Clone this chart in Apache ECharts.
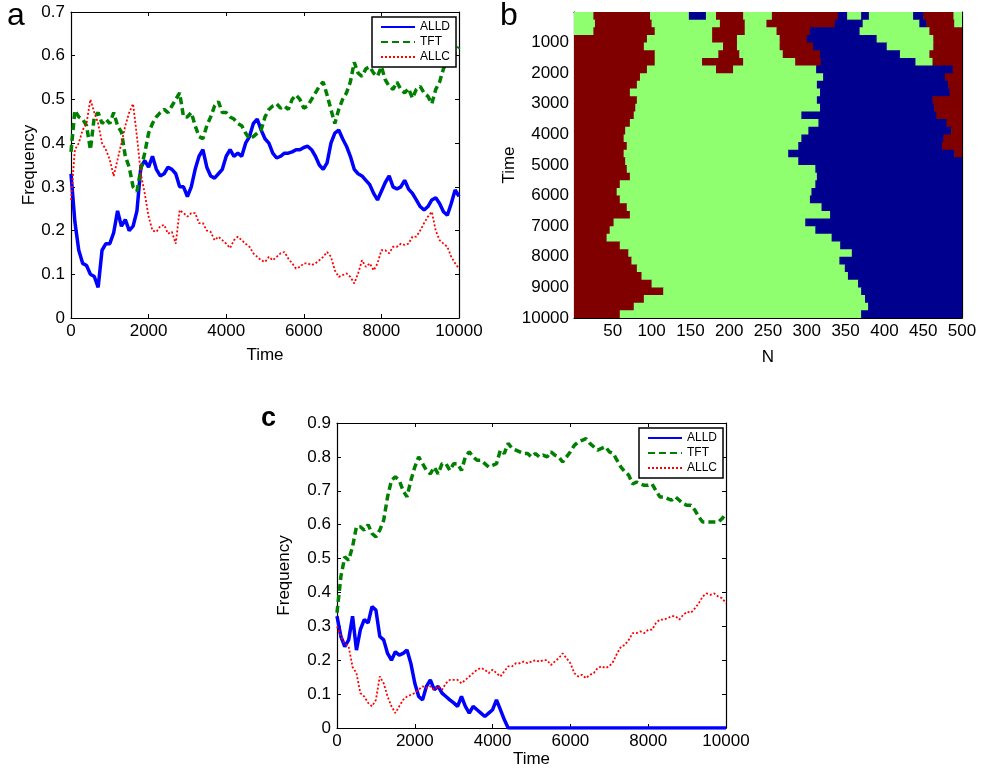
<!DOCTYPE html>
<html>
<head>
<meta charset="utf-8">
<title>ALLD / TFT / ALLC</title>
<script src="https://cdn.jsdelivr.net/npm/echarts@6/dist/echarts.min.js"></script>
<style>
    html, body { margin: 0; padding: 0; background: #fff; }
    #main { width: 981px; height: 771px; }
</style>
</head>
<body>
<div id="main"></div>
<script>
// sample times of the line panels (every 100 steps)
const timeSteps = Array.from({ length: 101 }, (_, i) => i * 100)
const seriesNames = ['ALLD', 'TFT', 'ALLC']

// panel a
const aALLD = [0.33, 0.22, 0.155, 0.125, 0.12, 0.10, 0.095, 0.07, 0.155, 0.17,
    0.17, 0.195, 0.245, 0.21, 0.225, 0.20, 0.21, 0.245, 0.345, 0.36,
    0.345, 0.37, 0.34, 0.325, 0.33, 0.345, 0.34, 0.33, 0.30, 0.30,
    0.278, 0.30, 0.34, 0.37, 0.385, 0.345, 0.325, 0.32, 0.33, 0.34,
    0.37, 0.385, 0.37, 0.377, 0.37, 0.40, 0.415, 0.445, 0.455, 0.43,
    0.41, 0.40, 0.377, 0.366, 0.37, 0.377, 0.377, 0.38, 0.385, 0.385,
    0.39, 0.393, 0.385, 0.37, 0.35, 0.34, 0.355, 0.40, 0.423, 0.43,
    0.41, 0.393, 0.37, 0.34, 0.33, 0.325, 0.315, 0.305, 0.285, 0.27,
    0.29, 0.31, 0.325, 0.30, 0.295, 0.30, 0.315, 0.295, 0.285, 0.27,
    0.255, 0.247, 0.255, 0.27, 0.275, 0.262, 0.243, 0.235, 0.262, 0.293,
    0.278]
const aTFT = [0.38, 0.475, 0.46, 0.455, 0.44, 0.385, 0.46, 0.47, 0.445, 0.455,
    0.445, 0.47, 0.44, 0.425, 0.37, 0.345, 0.30, 0.29, 0.34, 0.377,
    0.423, 0.445, 0.46, 0.47, 0.477, 0.47, 0.485, 0.50, 0.515, 0.46,
    0.46, 0.47, 0.44, 0.415, 0.41, 0.44, 0.46, 0.485, 0.495, 0.47,
    0.47, 0.46, 0.455, 0.445, 0.44, 0.423, 0.41, 0.415, 0.423, 0.43,
    0.46, 0.477, 0.485, 0.49, 0.48, 0.485, 0.477, 0.50, 0.51, 0.50,
    0.48, 0.485, 0.50, 0.515, 0.53, 0.54, 0.51, 0.477, 0.445, 0.477,
    0.50, 0.515, 0.54, 0.585, 0.56, 0.553, 0.57, 0.575, 0.56, 0.553,
    0.575, 0.545, 0.53, 0.523, 0.54, 0.523, 0.515, 0.525, 0.503, 0.523,
    0.53, 0.515, 0.507, 0.49, 0.523, 0.54, 0.57, 0.59, 0.585, 0.607,
    0.62]
const aALLC = [0.27, 0.385, 0.40, 0.43, 0.445, 0.50, 0.47, 0.445, 0.40, 0.385,
    0.362, 0.325, 0.362, 0.40, 0.44, 0.47, 0.49, 0.415, 0.33, 0.285,
    0.232, 0.20, 0.197, 0.21, 0.213, 0.193, 0.197, 0.17, 0.247, 0.24,
    0.232, 0.24, 0.24, 0.217, 0.217, 0.20, 0.197, 0.178, 0.186, 0.178,
    0.17, 0.16, 0.178, 0.186, 0.178, 0.17, 0.163, 0.148, 0.14, 0.132,
    0.128, 0.14, 0.132, 0.14, 0.148, 0.151, 0.136, 0.125, 0.113, 0.117,
    0.125, 0.125, 0.121, 0.125, 0.132, 0.14, 0.151, 0.14, 0.109, 0.094,
    0.098, 0.102, 0.094, 0.079, 0.102, 0.132, 0.117, 0.125, 0.109, 0.125,
    0.155, 0.155, 0.148, 0.163, 0.163, 0.17, 0.167, 0.17, 0.186, 0.186,
    0.20, 0.217, 0.232, 0.243, 0.20, 0.178, 0.17, 0.163, 0.14, 0.125,
    0.113]

// panel c
const cALLD = [0.33, 0.27, 0.24, 0.26, 0.33, 0.23, 0.29, 0.32, 0.31, 0.358,
    0.348, 0.27, 0.26, 0.22, 0.20, 0.225, 0.215, 0.22, 0.23, 0.19,
    0.132, 0.093, 0.083, 0.123, 0.142, 0.113, 0.123, 0.103, 0.093, 0.083,
    0.074, 0.064, 0.093, 0.064, 0.044, 0.064, 0.054, 0.044, 0.034, 0.044,
    0.054, 0.083, 0.054, 0.025, 0, 0, 0, 0, 0, 0,
    0, 0, 0, 0, 0, 0, 0, 0, 0, 0,
    0, 0, 0, 0, 0, 0, 0, 0, 0, 0,
    0, 0, 0, 0, 0, 0, 0, 0, 0, 0,
    0, 0, 0, 0, 0, 0, 0, 0, 0, 0,
    0, 0, 0, 0, 0, 0, 0, 0, 0, 0,
    0]
const cTFT = [0.34, 0.447, 0.505, 0.495, 0.535, 0.594, 0.594, 0.584, 0.60, 0.574,
    0.564, 0.584, 0.613, 0.682, 0.731, 0.741, 0.731, 0.70, 0.682, 0.731,
    0.77, 0.80, 0.78, 0.76, 0.75, 0.77, 0.75, 0.78, 0.78, 0.76,
    0.78, 0.78, 0.76, 0.80, 0.815, 0.80, 0.79, 0.79, 0.78, 0.77,
    0.775, 0.78, 0.82, 0.81, 0.84, 0.825, 0.82, 0.815, 0.81, 0.81,
    0.80, 0.81, 0.80, 0.805, 0.80, 0.815, 0.805, 0.80, 0.785, 0.80,
    0.815, 0.834, 0.844, 0.849, 0.854, 0.84, 0.83, 0.82, 0.825, 0.83,
    0.815, 0.81, 0.79, 0.77, 0.756, 0.746, 0.72, 0.726, 0.72, 0.716,
    0.716, 0.72, 0.70, 0.682, 0.682, 0.677, 0.672, 0.682, 0.672, 0.662,
    0.657, 0.657, 0.643, 0.623, 0.608, 0.608, 0.608, 0.608, 0.608, 0.618,
    0.633]
const cALLC = [0.30, 0.27, 0.25, 0.24, 0.18, 0.162, 0.103, 0.093, 0.074, 0.064,
    0.083, 0.152, 0.132, 0.093, 0.064, 0.044, 0.064, 0.083, 0.093, 0.098,
    0.103, 0.113, 0.123, 0.118, 0.123, 0.113, 0.123, 0.113, 0.132, 0.142,
    0.142, 0.142, 0.132, 0.142, 0.152, 0.162, 0.172, 0.177, 0.172, 0.162,
    0.172, 0.162, 0.152, 0.167, 0.182, 0.182, 0.191, 0.191, 0.196, 0.191,
    0.196, 0.20, 0.196, 0.20, 0.20, 0.186, 0.196, 0.206, 0.22, 0.206,
    0.191, 0.162, 0.152, 0.157, 0.147, 0.157, 0.162, 0.177, 0.182, 0.177,
    0.182, 0.196, 0.22, 0.24, 0.245, 0.26, 0.28, 0.28, 0.285, 0.28,
    0.29, 0.29, 0.31, 0.32, 0.32, 0.324, 0.33, 0.33, 0.32, 0.334,
    0.343, 0.34, 0.353, 0.368, 0.388, 0.397, 0.393, 0.397, 0.388, 0.383,
    0.368]

// panel b: strategy of every player N over time, one row per 250 steps,
// each row = runs of [end N, strategy]
const rowSpan = 250
const fieldRows = [
    [[25, 'G'], [98, 'R'], [148, 'G'], [170, 'B'], [183, 'G'], [218, 'R'], [255, 'G'], [340, 'R'], [352, 'B'], [370, 'G'], [380, 'B'], [437, 'G'], [450, 'B'], [489, 'R'], [500, 'G']],
    [[27, 'G'], [100, 'R'], [188, 'G'], [220, 'R'], [248, 'G'], [336, 'R'], [372, 'B'], [445, 'G'], [454, 'B'], [490, 'R'], [500, 'G']],
    [[25, 'G'], [104, 'R'], [178, 'G'], [220, 'R'], [261, 'G'], [304, 'R'], [368, 'B'], [458, 'G'], [500, 'R']],
    [[94, 'R'], [178, 'G'], [210, 'R'], [265, 'G'], [300, 'R'], [390, 'B'], [463, 'G'], [500, 'R']],
    [[90, 'R'], [192, 'G'], [210, 'R'], [265, 'G'], [308, 'R'], [403, 'B'], [463, 'G'], [500, 'R']],
    [[104, 'R'], [186, 'G'], [213, 'R'], [269, 'G'], [317, 'R'], [420, 'B'], [458, 'G'], [500, 'R']],
    [[104, 'R'], [165, 'G'], [218, 'R'], [285, 'G'], [318, 'R'], [440, 'B'], [462, 'G'], [500, 'R']],
    [[94, 'R'], [183, 'G'], [205, 'R'], [312, 'G'], [488, 'B'], [500, 'R']],
    [[85, 'R'], [321, 'G'], [478, 'B'], [500, 'R']],
    [[81, 'R'], [313, 'G'], [482, 'B'], [500, 'R']],
    [[72, 'R'], [317, 'G'], [484, 'B'], [500, 'R']],
    [[81, 'R'], [313, 'G'], [462, 'B'], [500, 'R']],
    [[79, 'R'], [317, 'G'], [464, 'B'], [500, 'R']],
    [[77, 'R'], [293, 'G'], [467, 'B'], [500, 'R']],
    [[72, 'R'], [315, 'G'], [480, 'B'], [500, 'R']],
    [[66, 'R'], [302, 'G'], [486, 'B'], [500, 'R']],
    [[64, 'R'], [293, 'G'], [476, 'B'], [500, 'R']],
    [[68, 'R'], [289, 'G'], [474, 'B'], [500, 'R']],
    [[64, 'R'], [276, 'G'], [490, 'B'], [500, 'R']],
    [[66, 'R'], [289, 'G'], [500, 'B']],
    [[68, 'R'], [311, 'G'], [500, 'B']],
    [[72, 'R'], [313, 'G'], [500, 'B']],
    [[59, 'R'], [311, 'G'], [500, 'B']],
    [[55, 'R'], [306, 'G'], [500, 'B']],
    [[59, 'R'], [304, 'G'], [500, 'B']],
    [[68, 'R'], [319, 'G'], [500, 'B']],
    [[72, 'R'], [330, 'G'], [500, 'B']],
    [[51, 'R'], [298, 'G'], [500, 'B']],
    [[46, 'R'], [311, 'G'], [500, 'B']],
    [[42, 'R'], [332, 'G'], [500, 'B']],
    [[59, 'R'], [343, 'G'], [500, 'B']],
    [[70, 'R'], [358, 'G'], [500, 'B']],
    [[74, 'R'], [342, 'G'], [500, 'B']],
    [[81, 'R'], [349, 'G'], [500, 'B']],
    [[87, 'R'], [353, 'G'], [500, 'B']],
    [[100, 'R'], [366, 'G'], [500, 'B']],
    [[115, 'R'], [370, 'G'], [500, 'B']],
    [[90, 'R'], [375, 'G'], [500, 'B']],
    [[77, 'R'], [379, 'G'], [500, 'B']],
    [[59, 'R'], [370, 'G'], [500, 'B']]
]

const lineColors = { ALLD: '#0000ff', TFT: '#008000', ALLC: '#ff0000' }
const fieldColors = { B: '#00008f', G: '#8fff70', R: '#800000' }
const fontFam = '"Liberation Sans", Arial, Helvetica, sans-serif'

const chartInstance = echarts.init(document.getElementById('main'), null, { renderer: 'canvas' })

const pairs = arr => arr.map((v, i) => [timeSteps[i], v])
const plainNum = v => (v === 0 ? '0' : String(+v.toFixed(1)))

// boxed axes: bottom/left with labels, top/right only inner ticks
const makeAxes = (gridIndex, x, y) => {
    const line = { show: true, onZero: false, lineStyle: { color: '#000', width: 1.2 } }
    const tick = { show: true, inside: true, length: 4, lineStyle: { color: '#000', width: 1 } }
    const lbl = { color: '#000', fontFamily: fontFam, fontSize: 17 }
    const base = (c, pos, withLabel) => {
        const ax = {
            type: 'value', gridIndex, position: pos,
            min: c.min, max: c.max, interval: c.interval, inverse: !!c.inverse,
            axisLine: line, axisTick: tick, splitLine: { show: false },
            axisLabel: { show: withLabel, ...lbl, margin: c.margin, formatter: c.formatter || plainNum },
            axisPointer: { show: false }
        }
        if (withLabel && c.name) {
            ax.name = c.name
            ax.nameLocation = 'middle'
            ax.nameGap = c.nameGap
            ax.nameTextStyle = { ...lbl }
        }
        return ax
    }
    return {
        xAxis: [base(x, 'bottom', true), base(x, 'top', false)],
        yAxis: [base(y, 'left', true), base(y, 'right', false)]
    }
}

const hideZero = v => (v === 0 ? '' : String(v))
const axA = makeAxes(0,
    { min: 0, max: 10000, interval: 2000, margin: 5, name: 'Time', nameGap: 29 },
    { min: 0, max: 0.7, interval: 0.1, margin: 6, name: 'Frequency', nameGap: 33 })
const axB = makeAxes(1,
    { min: 0, max: 500, interval: 50, margin: 5, name: 'N', nameGap: 31, formatter: hideZero },
    { min: 0, max: 10000, interval: 1000, margin: 5, inverse: true, name: 'Time', nameGap: 55, formatter: hideZero })
const axC = makeAxes(2,
    { min: 0, max: 10000, interval: 2000, margin: 5, name: 'Time', nameGap: 22 },
    { min: 0, max: 0.9, interval: 0.1, margin: 6, name: 'Frequency', nameGap: 44 })

const lineSeries = (name, data, axisIndex) => {
    const styles = {
        ALLD: { width: 3.5, type: 'solid' },
        TFT: { width: 3.5, type: [7, 4] },
        ALLC: { width: 1.8, type: [2, 2] }
    }
    return {
        name, type: 'line', xAxisIndex: axisIndex, yAxisIndex: axisIndex,
        data: pairs(data), symbol: 'none', showSymbol: false, smooth: false,
        lineStyle: { color: lineColors[name], ...styles[name] },
        itemStyle: { color: lineColors[name] },
        emphasis: { disabled: true }, silent: true, animation: false
    }
}

// rectangles of the N x Time field
const fieldData = []
fieldRows.forEach((runs, r) => {
    let start = 0
    runs.forEach(([end, s]) => {
        fieldData.push([start, end, r * rowSpan, (r + 1) * rowSpan, s])
        start = end
    })
})

const legendBox = (left, top) => ({
    left, top, orient: 'vertical',
    data: seriesNames,
    selectedMode: false,
    itemWidth: 34, itemHeight: 12, itemGap: 3,
    padding: [4, 6, 4, 8],
    borderColor: '#000', borderWidth: 1.5, borderRadius: 0,
    backgroundColor: '#fff',
    itemStyle: { opacity: 0 },
    lineStyle: { width: 2 },
    textStyle: { color: '#000', fontFamily: fontFam, fontSize: 12 }
})

const option = {
    backgroundColor: '#fff',
    animation: false,
    grid: [
        { left: 71, top: 12, width: 388, height: 306, outerBoundsMode: 'none' },
        { left: 574, top: 12, width: 388, height: 306, outerBoundsMode: 'none' },
        { left: 337, top: 423, width: 389, height: 305, outerBoundsMode: 'none' }
    ],
    xAxis: [...axA.xAxis, ...axB.xAxis, ...axC.xAxis],
    yAxis: [...axA.yAxis, ...axB.yAxis, ...axC.yAxis],
    legend: [legendBox(372, 17), legendBox(639, 428)],
    series: [
        {
            type: 'custom', xAxisIndex: 2, yAxisIndex: 2, clip: true, silent: true,
            encode: { x: [0, 1], y: [2, 3] },
            data: fieldData,
            renderItem: (params, api) => {
                const p0 = api.coord([api.value(0), api.value(2)])
                const p1 = api.coord([api.value(1), api.value(3)])
                const c = fieldColors[fieldData[params.dataIndex][4]]
                // a little overlap so no seams show between cells
                return {
                    type: 'rect',
                    shape: {
                        x: p0[0], y: Math.min(p0[1], p1[1]),
                        width: p1[0] - p0[0] + 0.6, height: Math.abs(p1[1] - p0[1]) + 1
                    },
                    style: { fill: c }
                }
            }
        },
        lineSeries('ALLD', aALLD, 0),
        lineSeries('TFT', aTFT, 0),
        lineSeries('ALLC', aALLC, 0),
        lineSeries('ALLD', cALLD, 4),
        lineSeries('TFT', cTFT, 4),
        lineSeries('ALLC', cALLC, 4)
    ],
    graphic: [
        { type: 'text', left: 7, top: 0, style: { text: 'a', font: '32px ' + fontFam, fill: '#000' } },
        { type: 'text', left: 500, top: 0, style: { text: 'b', font: '32px ' + fontFam, fill: '#000' } },
        { type: 'text', left: 261, top: 405, style: { text: 'c', font: 'bold 27px ' + fontFam, fill: '#000' } }
    ]
}
chartInstance.setOption(option)
</script>
</body>
</html>
